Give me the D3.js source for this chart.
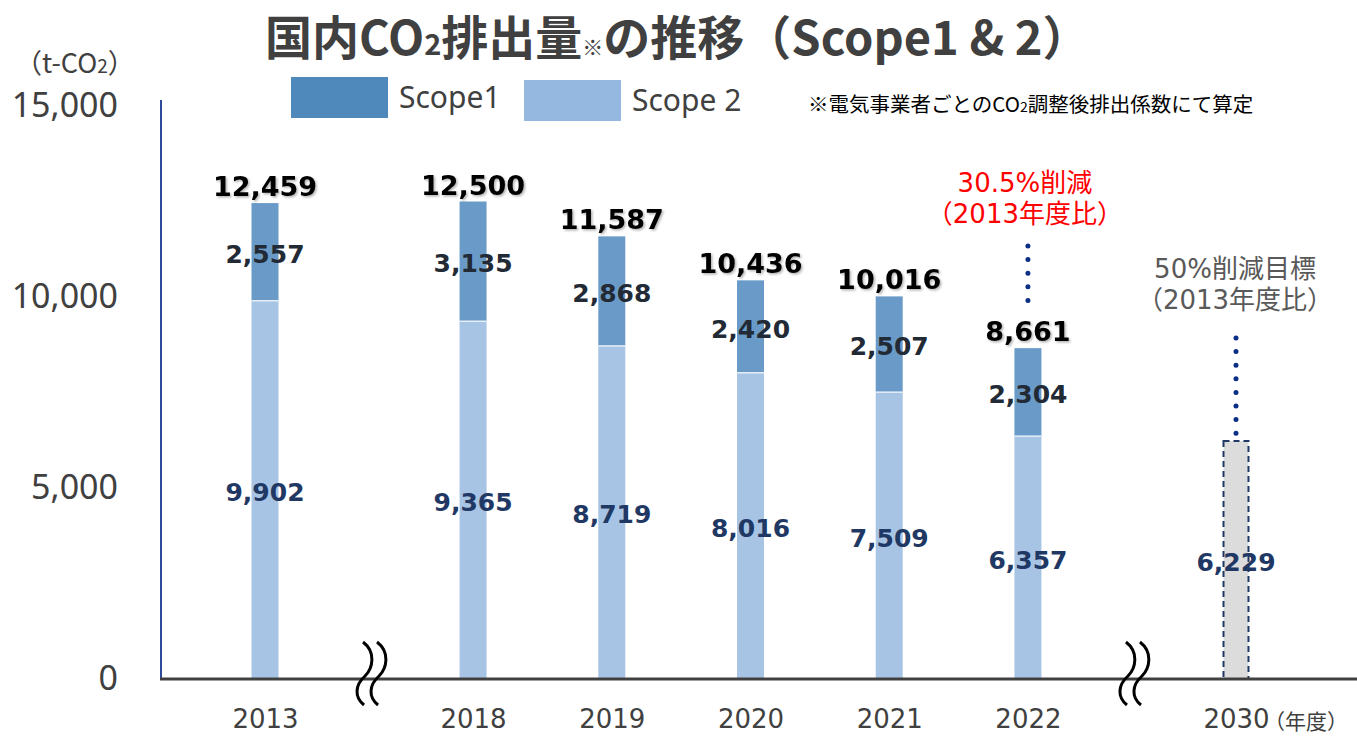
<!DOCTYPE html>
<html>
<head>
<meta charset="utf-8">
<script src="https://cdn.jsdelivr.net/npm/d3@7"></script>
<style>
  body { margin: 0; background: #fff; }
</style>
</head>
<body>
<div id="chart"></div>
<script>
// data
const years = ["2013", "2018", "2019", "2020", "2021", "2022"];
const scope1 = [2557, 3135, 2868, 2420, 2507, 2304];
const scope2 = [9902, 9365, 8719, 8016, 7509, 6357];
const totals = [12459, 12500, 11587, 10436, 10016, 8661];
const targetYear = "2030";
const targetValue = 6229;
const breakBefore = ["2018", "2030"];
const yTicks = [0, 5000, 10000, 15000];

const width = 1357, height = 736;
const cjk = "Noto Sans CJK JP";
const mixed = "DejaVu Sans, Noto Sans CJK JP";
const svg = d3.select("#chart").append("svg")
    .attr("width", width)
    .attr("height", height)
    .attr("font-family", cjk);

const defs = svg.append("defs");
const shadow = defs.append("filter").attr("id", "shadow")
    .attr("x", "-10%").attr("y", "-20%").attr("width", "130%").attr("height", "150%");
shadow.append("feDropShadow")
    .attr("dx", 1.5).attr("dy", 1.5).attr("stdDeviation", 1)
    .attr("flood-color", "#000").attr("flood-opacity", 0.3);

// slot positions: one step per year, half extra step at each break
const allYears = years.concat([targetYear]);
let s = 0;
const slot = {};
allYears.forEach((yr, i) => {
    if (i > 0) s += breakBefore.includes(yr) ? 1.5 : 1;
    slot[yr] = s;
});

const x = d3.scaleLinear().domain([0, slot[targetYear]]).range([265, 1236]);
const y = d3.scaleLinear().domain([0, 15000]).range([679, 106]);
const barW = 27;

// title
svg.append("text")
    .attr("x", 265).attr("y", 55)
    .attr("font-size", 47).attr("font-weight", 700).attr("fill", "#404040")
    .html('国内CO<tspan font-size="29">2</tspan>排出量<tspan font-size="21">※</tspan>の推移（Scope1 &amp; 2）');

// unit
svg.append("text")
    .attr("x", 15).attr("y", 73)
    .attr("font-size", 27).attr("fill", "#404040")
    .html('（t-CO<tspan font-size="19">2</tspan>）');

// legend
const legend = [
    { name: "Scope1", color: "#4f88bb", x: 291, y: 77 },
    { name: "Scope 2", color: "#95b8e0", x: 524, y: 80 }
];
legend.forEach(l => {
    svg.append("rect").attr("x", l.x).attr("y", l.y).attr("width", 97).attr("height", 41).attr("fill", l.color);
    svg.append("text").attr("x", l.x + 108).attr("y", l.y + 31)
        .attr("font-family", "Noto Sans").attr("font-size", 30).attr("fill", "#404040")
        .text(l.name);
});

// note
svg.append("text")
    .attr("x", 808).attr("y", 112)
    .attr("font-size", 20.5).attr("fill", "#000")
    .html('※電気事業者ごとのCO<tspan font-size="14">2</tspan>調整後排出係数にて算定');

// y axis
const yAxisG = svg.append("g")
    .attr("transform", "translate(161,0)")
    .call(d3.axisLeft(y).tickValues(yTicks).tickSize(0).tickPadding(43).tickFormat(d3.format(",")));
yAxisG.select(".domain").remove();
yAxisG.attr("font-family", "Noto Sans").attr("font-size", 34);
yAxisG.selectAll("text").attr("fill", "#404040");
svg.append("line")
    .attr("x1", 161).attr("x2", 161).attr("y1", 100).attr("y2", y(0))
    .attr("stroke", "#2f4a9a").attr("stroke-width", 2);

// bars
const rows = years.map((yr, i) => ({ year: yr, s1: scope1[i], s2: scope2[i], total: totals[i] }));
const bars = svg.append("g");
bars.selectAll(".s2").data(rows).join("rect")
    .attr("class", "s2")
    .attr("x", d => x(slot[d.year]) - barW / 2)
    .attr("y", d => y(d.s2))
    .attr("width", barW)
    .attr("height", d => y(0) - y(d.s2))
    .attr("fill", "#a7c4e4");
bars.selectAll(".s1").data(rows).join("rect")
    .attr("class", "s1")
    .attr("x", d => x(slot[d.year]) - barW / 2)
    .attr("y", d => y(d.s1 + d.s2))
    .attr("width", barW)
    .attr("height", d => y(d.s2) - y(d.s1 + d.s2))
    .attr("fill", "#6a9bc8");
bars.selectAll(".sep").data(rows).join("line")
    .attr("class", "sep")
    .attr("x1", d => x(slot[d.year]) - barW / 2)
    .attr("x2", d => x(slot[d.year]) + barW / 2)
    .attr("y1", d => y(d.s2)).attr("y2", d => y(d.s2))
    .attr("stroke", "#e6eef8").attr("stroke-width", 1.5);

// 2030 target bar
svg.append("rect")
    .attr("x", x(slot[targetYear]) - barW / 2 + 1)
    .attr("y", y(targetValue))
    .attr("width", barW - 2)
    .attr("height", y(0) - y(targetValue))
    .attr("fill", "#dcdcdc")
    .attr("stroke", "#1f3864").attr("stroke-width", 2).attr("stroke-dasharray", "6,4");

// labels
const fmt = d3.format(",");
svg.append("g").attr("font-family", "DejaVu Sans").attr("font-weight", 700).attr("font-size", 25)
    .selectAll("text").data(rows).join("text")
    .attr("x", d => x(slot[d.year]))
    .attr("y", d => (y(d.s2) + y(d.s1 + d.s2)) / 2 + 11)
    .attr("text-anchor", "middle")
    .attr("fill", "#222a35")
    .text(d => fmt(d.s1));
svg.append("g").attr("font-family", "DejaVu Sans").attr("font-weight", 700).attr("font-size", 25)
    .selectAll("text").data(rows).join("text")
    .attr("x", d => x(slot[d.year]))
    .attr("y", d => (y(0) + y(d.s2)) / 2 + 11)
    .attr("text-anchor", "middle")
    .attr("fill", "#1f3864")
    .text(d => fmt(d.s2));
svg.append("g").attr("font-family", "DejaVu Sans").attr("font-weight", 700).attr("font-size", 27)
    .selectAll("text").data(rows).join("text")
    .attr("x", d => x(slot[d.year]))
    .attr("y", d => y(d.total) - 7)
    .attr("text-anchor", "middle")
    .attr("fill", "#000").attr("filter", "url(#shadow)")
    .text(d => fmt(d.total));
svg.append("text")
    .attr("x", x(slot[targetYear]))
    .attr("y", (y(0) + y(targetValue)) / 2 + 11)
    .attr("text-anchor", "middle")
    .attr("font-family", "DejaVu Sans").attr("font-weight", 700).attr("font-size", 25)
    .attr("fill", "#1f3864")
    .text(fmt(targetValue));

// dotted leaders
function dots(cx, y1, y2) {
    svg.append("line")
        .attr("x1", cx).attr("x2", cx).attr("y1", y1).attr("y2", y2)
        .attr("stroke", "#0b2f86").attr("stroke-width", 5)
        .attr("stroke-linecap", "round").attr("stroke-dasharray", "0,13.6");
}
dots(x(slot["2022"]), 246, 302);
dots(x(slot[targetYear]), 338, 434);

// annotations
function note2(cx, y0, lines, color) {
    lines.forEach((t, i) => {
        svg.append("text")
            .attr("x", cx).attr("y", y0 + i * 31)
            .attr("text-anchor", "middle")
            .attr("font-family", mixed)
            .attr("font-size", 26).attr("fill", color)
            .text(t);
    });
}
note2(x(slot["2022"]) - 3, 192, ["30.5%削減", "（2013年度比）"], "#ff0000");
note2(x(slot[targetYear]) - 1, 278, ["50%削減目標", "（2013年度比）"], "#595959");

// x axis
const xAxisG = svg.append("g")
    .attr("transform", `translate(0,${y(0)})`)
    .call(d3.axisBottom(x).tickValues(allYears.map(yr => slot[yr])).tickSize(0).tickPadding(31)
        .tickFormat((d, i) => allYears[i]));
xAxisG.select(".domain").remove();
xAxisG.attr("font-family", "DejaVu Sans").attr("font-size", 26);
xAxisG.selectAll("text").attr("fill", "#404040");
svg.append("line")
    .attr("x1", 160).attr("x2", width).attr("y1", y(0)).attr("y2", y(0))
    .attr("stroke", "#404040").attr("stroke-width", 3);
svg.append("text")
    .attr("x", x(slot[targetYear]) + 28).attr("y", 729)
    .attr("font-size", 21).attr("fill", "#404040")
    .text("（年度）");

// axis break marks
breakBefore.forEach(yr => {
    const i = allYears.indexOf(yr);
    const cx = (x(slot[allYears[i - 1]]) + x(slot[yr])) / 2 + 4;
    [-7, 7].forEach(dx => {
        const x0 = cx + dx - 3;
        svg.append("path")
            .attr("d", `M${x0},642 C${x0 + 13},652 ${x0 + 10},668 ${x0 + 2},676 C${x0 - 8},685 ${x0 - 9},697 ${x0 + 1},705`)
            .attr("fill", "none").attr("stroke", "#000").attr("stroke-width", 3);
    });
});
</script>
</body>
</html>
